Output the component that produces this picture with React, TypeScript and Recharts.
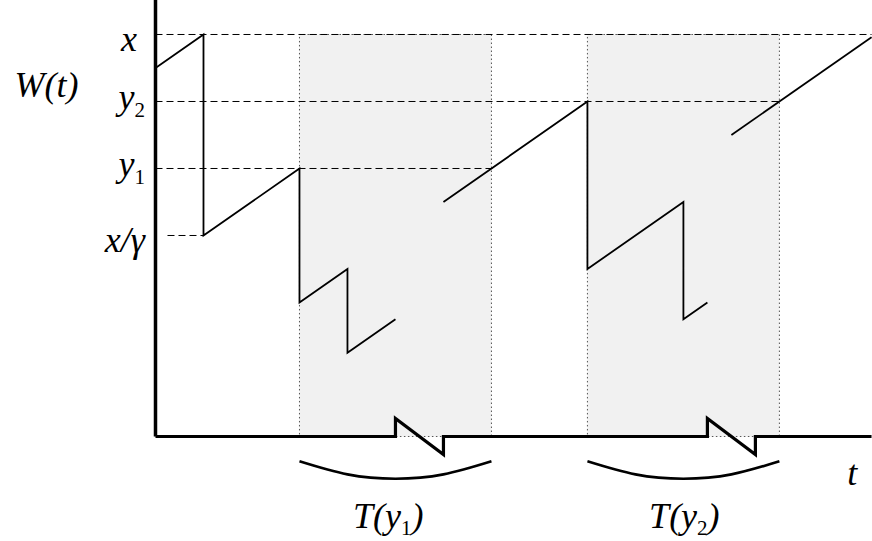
import React from 'react';
import {
  ComposedChart,
  Line,
  XAxis,
  YAxis,
  ReferenceLine,
  ReferenceArea,
  ReferenceDot,
} from 'recharts';

// W(t) pieces, (t, w)
const pieceA = [
  { t: 0, w: 5.5 },
  { t: 1, w: 6 },
  { t: 1, w: 3 },
  { t: 3, w: 4 },
  { t: 3, w: 2 },
  { t: 4, w: 2.5 },
  { t: 4, w: 1.25 },
  { t: 5, w: 1.75 },
];
const pieceB = [
  { t: 6, w: 3.5 },
  { t: 9, w: 5 },
  { t: 9, w: 2.5 },
  { t: 11, w: 3.5 },
  { t: 11, w: 1.75 },
  { t: 11.5, w: 2 },
];
const pieceC = [
  { t: 12, w: 4.5 },
  { t: 14.92, w: 5.96 },
];

// time axis, broken twice
const timeAxis = [
  { t: 0, w: 0 },
  { t: 5, w: 0 },
  { t: 5, w: 0.27 },
  { t: 6, w: -0.27 },
  { t: 6, w: 0 },
  { t: 11.5, w: 0 },
  { t: 11.5, w: 0.27 },
  { t: 12.5, w: -0.27 },
  { t: 12.5, w: 0 },
  { t: 14.92, w: 0 },
];

// levels on the W axis
const levelValues = [6, 5, 4, 3];
const levelNames = ['x', 'y', 'y', 'x/γ'];
const levelSubs = ['', '2', '1', ''];
const levelStart = [0, 0, 0, 0.25];
const levelEnd = [14.92, 13, 7, 1];

// T(y) periods
const periodStart = [3, 9];
const periodEnd = [7, 13];
const periodSubs = ['1', '2'];
const arc1 = [
  { t: 3, w: -0.37 },
  { t: 4, w: -0.565 },
  { t: 5, w: -0.63 },
  { t: 6, w: -0.565 },
  { t: 7, w: -0.37 },
];
const arc2 = [
  { t: 9, w: -0.37 },
  { t: 10, w: -0.565 },
  { t: 11, w: -0.63 },
  { t: 12, w: -0.565 },
  { t: 13, w: -0.37 },
];

// domains nudged half a pixel so guides land on pixel centres
const T_MIN = -0.0104;
const T_MAX = 14.9296;
const W_MIN = -1.5597;
const W_MAX = 6.5149;

const textStyle: React.CSSProperties = {
  fontFamily: "'Liberation Serif', 'DejaVu Serif', serif",
  fontStyle: 'italic',
  fontSize: 36,
};

const LevelTick = (props: any) => {
  const { x, y, payload } = props;
  const i = levelValues.indexOf(payload.value);
  if (i < 0) return null;
  const sub = levelSubs[i];
  const hasDesc = levelNames[i] === 'y';
  const right = levelNames[i] === 'x' ? x - 8 : x;
  return (
    <text
      x={right}
      y={y + (hasDesc ? 8 : 17)}
      textAnchor="end"
      style={textStyle}
      fill="#000"
    >
      <tspan>{levelNames[i]}</tspan>
      {sub && (
        <tspan style={{ fontSize: 21, fontStyle: 'normal' }} dy={8}>
          {sub}
        </tspan>
      )}
    </text>
  );
};

const textShape = (content: React.ReactNode) => (props: any) => (
  <text
    x={props.cx}
    y={props.cy}
    textAnchor="middle"
    style={textStyle}
    fill="#000"
  >
    {content}
  </text>
);

export default function App() {
  return (
    <div
      style={{
        position: 'absolute',
        left: 0,
        top: 0,
        width: 872,
        height: 541,
        background: '#fff',
      }}
    >
      <ComposedChart
        width={872}
        height={541}
        margin={{ top: 0, right: 0, bottom: 0, left: 0 }}
      >
        <XAxis
          type="number"
          dataKey="t"
          domain={[T_MIN, T_MAX]}
          allowDataOverflow
          hide
        />
        <YAxis
          type="number"
          dataKey="w"
          domain={[W_MIN, W_MAX]}
          allowDataOverflow
          ticks={levelValues}
          width={155}
          axisLine={false}
          tickLine={false}
          tickSize={0}
          tickMargin={10}
          tick={<LevelTick />}
        />

        {periodStart.map((s, i) => (
          <ReferenceArea
            key={`p${i}`}
            x1={s}
            x2={periodEnd[i]}
            y1={0}
            y2={6}
            fill="#f1f1f1"
            fillOpacity={1}
            stroke="#555"
            strokeDasharray="1.5 2.5"
          />
        ))}

        {levelValues.map((v, i) => (
          <ReferenceLine
            key={`l${i}`}
            segment={[
              { x: levelStart[i], y: v },
              { x: levelEnd[i], y: v },
            ]}
            stroke="#000"
            strokeWidth={1}
            strokeDasharray="7 4"
          />
        ))}

        <ReferenceLine
          segment={[
            { x: 0, y: 0 },
            { x: 0, y: W_MAX },
          ]}
          stroke="#000"
          strokeWidth={3.5}
        />

        {[pieceA, pieceB, pieceC].map((d, i) => (
          <Line
            key={`s${i}`}
            data={d}
            dataKey="w"
            type="linear"
            stroke="#000"
            strokeWidth={1.8}
            dot={false}
            isAnimationActive={false}
          />
        ))}

        <Line
          data={timeAxis}
          dataKey="w"
          type="linear"
          stroke="#000"
          strokeWidth={3.2}
          strokeLinejoin="miter"
          dot={false}
          isAnimationActive={false}
        />

        {[arc1, arc2].map((d, i) => (
          <Line
            key={`a${i}`}
            data={d}
            dataKey="w"
            type="natural"
            stroke="#000"
            strokeWidth={2.6}
            dot={false}
            isAnimationActive={false}
          />
        ))}

        <ReferenceDot
          x={-2.27}
          y={5.06}
          r={0}
          ifOverflow="visible"
          shape={textShape('W(t)')}
        />
        <ReferenceDot
          x={14.52}
          y={-0.73}
          r={0}
          ifOverflow="visible"
          shape={textShape('t')}
        />
        {periodSubs.map((s, i) => (
          <ReferenceDot
            key={`T${i}`}
            x={i === 0 ? 4.85 : 11.02}
            y={-1.36}
            r={0}
            ifOverflow="visible"
            shape={textShape(
              <>
                <tspan>T(y</tspan>
                <tspan style={{ fontSize: 21, fontStyle: 'normal' }} dy={7}>
                  {s}
                </tspan>
                <tspan dy={-7}>)</tspan>
              </>
            )}
          />
        ))}
      </ComposedChart>
    </div>
  );
}
